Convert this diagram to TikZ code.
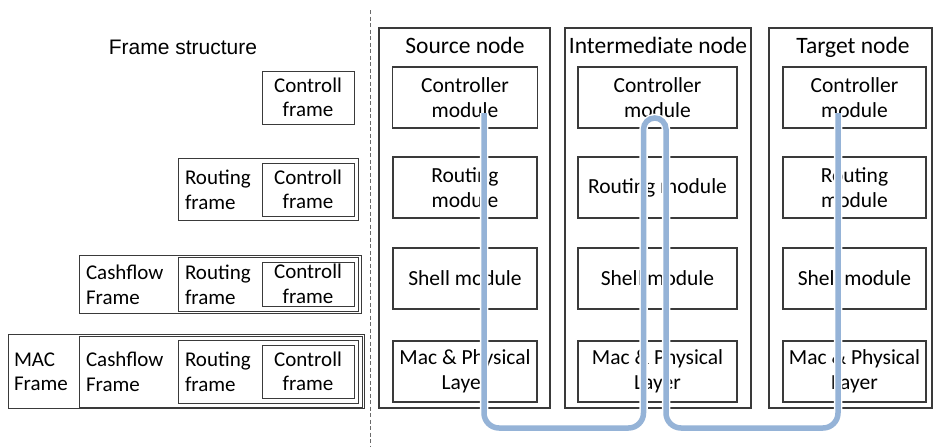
\documentclass[tikz,border=0pt]{standalone}
\usepackage{fontspec}
\setmainfont{Carlito}
\newfontfamily\arialfont{Liberation Sans}
\definecolor{boxgray}{HTML}{3A3A3A}
\definecolor{pathblue}{HTML}{95B3D7}
\definecolor{dashgray}{HTML}{6A6A6A}
\begin{document}
\begin{tikzpicture}[x=1pt,y=-1pt,
  every node/.style={inner sep=0pt, outer sep=0pt},
  column/.style={draw=boxgray, line width=1.1pt},
  modbox/.style={draw=boxgray, line width=1.1pt, align=center,
    font=\fontsize{21.5}{25.5}\selectfont},
  title/.style={anchor=base, font=\fontsize{23.5}{27}\selectfont},
  frm/.style={draw=boxgray, line width=0.9pt, align=center,
    font=\fontsize{21}{24.5}\selectfont},
  frmtext/.style={anchor=west, align=left, font=\fontsize{21}{24.5}\selectfont},
  divider/.style={draw=dashgray, line width=1pt, dash pattern=on 4pt off 2.5pt},
  link/.style={draw=pathblue, line width=5.5pt,
    preaction={draw=white, line width=8.5pt}}]
\useasboundingbox (0,0) rectangle (935,447);

% separator between the frame structure and the nodes
\coordinate (dtop) at (370,10);
\coordinate (dbot) at (370,447);
\draw[divider] (dtop) -- (dbot);

% ---------- frame structure ----------
\node[anchor=base, font=\arialfont\fontsize{21}{26}\selectfont] (fstitle) at (183,54) {Frame structure};

% controll frame alone
\node[frm, minimum width=92pt, minimum height=53pt] (cf1) at (308,97.5) {Controll\\frame};

% routing frame
\node[frm, minimum width=180pt, minimum height=62pt] (rf2) at (268,189) {};
\node[frm, minimum width=92pt, minimum height=53pt] (cf2) at (308,189.5) {Controll\\frame};
\node[frmtext] (rt2) at (185,190) {Routing\\frame};

% cashflow frame
\node[frm, minimum width=282pt, minimum height=58pt] (ca3) at (220,284) {};
\node[frm, minimum width=180pt, minimum height=54pt] (rf3) at (268,284) {};
\node[frm, minimum width=92pt, minimum height=44pt] (cf3) at (308,284) {Controll\\frame};
\node[frmtext] (rt3) at (185,285) {Routing\\frame};
\node[frmtext] (ct3) at (86,285) {Cashflow\\Frame};

% MAC frame
\node[frm, minimum width=356pt, minimum height=74pt] (mac4) at (186,371) {};
\node[frm, minimum width=283pt, minimum height=71pt] (ca4) at (220.5,371.5) {};
\node[frm, minimum width=180pt, minimum height=63pt] (rf4) at (268,371.5) {};
\node[frm, minimum width=92pt, minimum height=53pt] (cf4) at (308,371.5) {Controll\\frame};
\node[frmtext] (rt4) at (185,372) {Routing\\frame};
\node[frmtext] (ct4) at (86,372) {Cashflow\\Frame};
\node[frmtext] (mt4) at (14,372) {MAC\\Frame};

% ---------- nodes ----------
\node[column, minimum width=171pt, minimum height=380pt] (src) at (464.5,218) {};
\node[column, minimum width=186pt, minimum height=380pt] (mid) at (658,218) {};
\node[column, minimum width=163pt, minimum height=380pt] (tgt) at (850.5,218) {};

\node[title] (srct) at (465,53) {Source node};
\node[title] (midt) at (658,53) {Intermediate node};
\node[title] (tgtt) at (853,53) {Target node};

% source node modules
\node[modbox, minimum width=145pt, minimum height=61pt] (sc) at (465,97.5) {Controller\\module};
\node[modbox, minimum width=144pt, minimum height=61pt] (sr) at (465,187.5) {Routing\\module};
\node[modbox, minimum width=144pt, minimum height=61pt] (ss) at (465,278.5) {Shell module};
\node[modbox, minimum width=144pt, minimum height=61pt] (sm) at (465,371.5) {Mac \& Physical\\Layer};

% intermediate node modules
\node[modbox, minimum width=159pt, minimum height=61pt] (mc) at (657.5,97.5) {Controller\\module};
\node[modbox, minimum width=159pt, minimum height=61pt] (mr) at (657.5,187.5) {Routing module};
\node[modbox, minimum width=159pt, minimum height=61pt] (ms) at (657.5,278.5) {Shell module};
\node[modbox, minimum width=159pt, minimum height=61pt] (mm) at (657.5,371.5) {Mac \& Physical\\Layer};

% target node modules
\node[modbox, minimum width=143pt, minimum height=61pt] (tc) at (854.5,97.5) {Controller\\module};
\node[modbox, minimum width=143pt, minimum height=61pt] (tr) at (854.5,187.5) {Routing\\module};
\node[modbox, minimum width=143pt, minimum height=61pt] (ts) at (854.5,278.5) {Shell module};
\node[modbox, minimum width=143pt, minimum height=61pt] (tm) at (854.5,371.5) {Mac \& Physical\\Layer};

% ---------- message route ----------
\coordinate (s0) at (484,113);
\coordinate (t0) at (838,113);
\coordinate (bot) at (0,428);
\coordinate (ul) at (643.5,118);
\coordinate (ur) at (666,118);
\draw[link, rounded corners=15pt]
  (s0) -- (s0 |- bot) -- (ul |- bot)
  [rounded corners=11.25pt] -- (ul) -- (ur)
  [rounded corners=15pt] -- (ur |- bot) -- (t0 |- bot) -- (t0);
\end{tikzpicture}
\end{document}
